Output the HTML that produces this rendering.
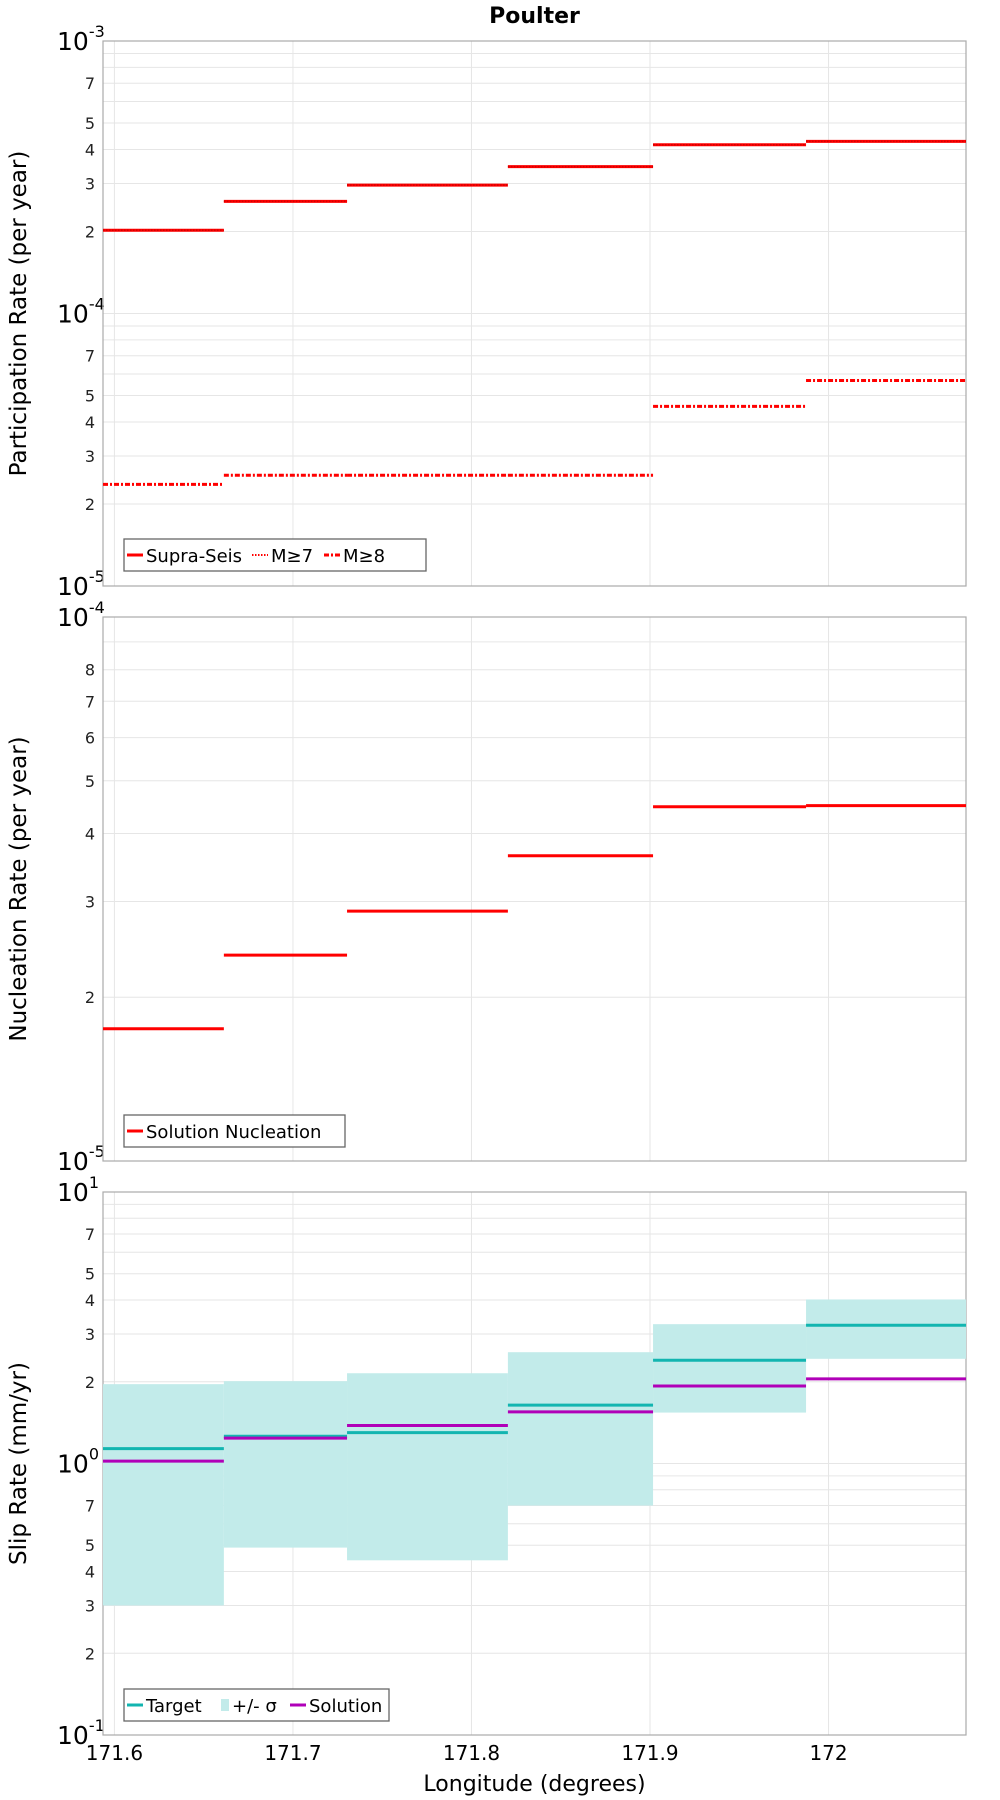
<!DOCTYPE html>
<html><head><meta charset="utf-8"><style>
body{margin:0;background:#fff;}
svg{display:block;font-family:"DejaVu Sans","Liberation Sans",sans-serif;}
</style></head><body>
<svg id="c" width="1000" height="1800" viewBox="0 0 1000 1800"></svg>
<script>
// data
const bounds = [171.5936, 171.6613, 171.7303, 171.8204, 171.9017, 171.9874, 172.0770];
const supraSeis = [2.02e-4, 2.58e-4, 2.96e-4, 3.46e-4, 4.16e-4, 4.28e-4];
const m7 = [2.02e-4, 2.58e-4, 2.96e-4, 3.46e-4, 4.16e-4, 4.28e-4];
const m8 = [2.36e-5, 2.55e-5, 2.55e-5, 2.55e-5, 4.56e-5, 5.68e-5];
const nucleation = [1.75e-5, 2.39e-5, 2.88e-5, 3.64e-5, 4.48e-5, 4.50e-5];
const target = [1.135, 1.26, 1.30, 1.64, 2.40, 3.23];
const solution = [1.02, 1.24, 1.38, 1.55, 1.93, 2.05];
const sigmaUpper = [1.96, 2.01, 2.15, 2.57, 3.26, 4.02];
const sigmaLower = [0.30, 0.49, 0.44, 0.70, 1.54, 2.43];
const xTicks = [171.6, 171.7, 171.8, 171.9, 172];
const xTickLabels = ['171.6', '171.7', '171.8', '171.9', '172'];

const NS = 'http://www.w3.org/2000/svg';
const svg = document.getElementById('c');
const L = 103, R = 966, XMIN = 171.5936, XMAX = 172.0770;
function x(v){ return L + (v - XMIN) / (XMAX - XMIN) * (R - L); }
function mk(tag, attrs, parent){
  const e = document.createElementNS(NS, tag);
  for (const k in attrs) e.setAttribute(k, attrs[k]);
  (parent || svg).appendChild(e);
  return e;
}
function txt(s, attrs, parent){ const t = mk('text', attrs, parent); t.textContent = s; return t; }

const panels = [
  {name:'participation', top:41, bot:586, lo:-5, hi:-3, labels:[2,3,4,5,7], title:'Participation Rate (per year)'},
  {name:'nucleation', top:617, bot:1161, lo:-5, hi:-4, labels:[2,3,4,5,6,7,8], title:'Nucleation Rate (per year)'},
  {name:'slip', top:1192, bot:1735, lo:-1, hi:1, labels:[2,3,4,5,7], title:'Slip Rate (mm/yr)'}
];
panels.forEach(p => { p.y = v => p.bot - (Math.log10(v) - p.lo) / (p.hi - p.lo) * (p.bot - p.top); });

txt('Poulter', {x:(L+R)/2, y:23, 'text-anchor':'middle', 'font-size':22, 'font-weight':'bold',  });

panels.forEach(p => {
  const g = mk('g', {});
  
  
  for (let d = p.lo; d < p.hi; d++) {
    for (let m = 1; m <= 9; m++) {
      const yy = p.y(m * Math.pow(10, d));
      const gl = mk('line', {x1:L, x2:R, y1:yy, y2:yy, stroke:'#e6e6e6', 'stroke-width':1}, g);
      
      
      if (m > 1 && p.labels.indexOf(m) >= 0) {
        const t = txt(String(m), {x:L-8, y:yy+6, 'text-anchor':'end', 'font-size':16, fill:'#222'}, g);
        
        
      }
    }
  }
  for (let d = p.lo; d <= p.hi; d++) {
    const yy = p.y(Math.pow(10, d));
    const t = mk('text', {x:L-46, y:yy+9, 'font-size':25, fill:'#000'}, g);
    
    
    t.textContent = '10';
    const s = mk('tspan', {dy:-13, 'font-size':16}, t);
    s.textContent = String(d);
  }
  xTicks.forEach(v => {
    const gl = mk('line', {x1:x(v), x2:x(v), y1:p.top, y2:p.bot, stroke:'#e6e6e6', 'stroke-width':1}, g);
    
    
  });
  const fr = mk('rect', {x:L, y:p.top, width:R-L, height:p.bot-p.top, fill:'none', stroke:'#aaa', 'stroke-width':1.2}, g);
  
  
  const yt = txt(p.title, {x:0, y:0, transform:`translate(26,${(p.top+p.bot)/2}) rotate(-90)`, 'text-anchor':'middle', 'font-size':23}, g);
  
  
  p.g = g;
});

function steps(p, vals, attrs, name){
  vals.forEach((v, i) => {
    const yy = p.y(v);
    const l = mk('line', Object.assign({x1:x(bounds[i]), x2:x(bounds[i+1]), y1:yy, y2:yy}, attrs), p.g);
    
    
  });
}
const P1 = panels[0], P2 = panels[1], P3 = panels[2];
steps(P1, supraSeis, {stroke:'#ff0000', 'stroke-width':3}, 'supra-seis-segment');
steps(P1, m7, {stroke:'#d00000', 'stroke-width':1.5, 'stroke-dasharray':'1.5 1.5'}, 'm7-segment');
steps(P1, m8, {stroke:'#ff0000', 'stroke-width':3, 'stroke-dasharray':'5 2 2 2'}, 'm8-segment');
steps(P2, nucleation, {stroke:'#ff0000', 'stroke-width':3}, 'nucleation-segment');
sigmaUpper.forEach((u, i) => {
  const r = mk('rect', {x:x(bounds[i]), y:P3.y(u), width:x(bounds[i+1])-x(bounds[i]), height:P3.y(sigmaLower[i])-P3.y(u), fill:'#c2ebea'}, P3.g);
  
  
});
steps(P3, target, {stroke:'#12b5b0', 'stroke-width':3}, 'target-segment');
steps(P3, solution, {stroke:'#b000b8', 'stroke-width':3}, 'solution-segment');

xTicks.forEach((v, i) => {
  const t = txt(xTickLabels[i], {x:x(v), y:1760, 'text-anchor':'middle', 'font-size':20}, svg);
  
  
});
const xt = txt('Longitude (degrees)', {x:(L+R)/2, y:1791, 'text-anchor':'middle', 'font-size':22}, svg);



function legend(g, x0, y0, w, items){
  const lg = mk('g', {}, g);
  
  
  mk('rect', {x:x0, y:y0, width:w, height:32, fill:'#fff', stroke:'#666', 'stroke-width':1.3}, lg);
  let cx = x0 + 3;
  items.forEach(it => {
    const e = mk('g', {}, lg);
    
    
    if (it.box) mk('rect', {x:cx+1, y:y0+10, width:8, height:12, fill:it.color}, e);
    else mk('line', {x1:cx, x2:cx+16, y1:y0+16, y2:y0+16, stroke:it.color, 'stroke-width':it.w||3, 'stroke-dasharray':it.dash||'none'}, e);
    cx += it.box ? 12 : 19;
    txt(it.label, {x:cx, y:y0+23, 'font-size':18}, e);
    cx += it.tw;
  });
}
legend(P1.g, 124, 539, 302, [
  {label:'Supra-Seis', color:'#ff0000', tw:106},
  {label:'M≥7', color:'#ff0000', w:2, dash:'1.5 1.5', tw:53},
  {label:'M≥8', color:'#ff0000', dash:'5 2 2 2', tw:50}
]);
legend(P2.g, 124, 1115, 221, [
  {label:'Solution Nucleation', color:'#ff0000', tw:200}
]);
legend(P3.g, 124, 1689, 265, [
  {label:'Target', color:'#12b5b0', tw:74},
  {label:'+/- σ', color:'#c2ebea', box:true, tw:58},
  {label:'Solution', color:'#b000b8', tw:90}
]);
</script>
</body></html>
